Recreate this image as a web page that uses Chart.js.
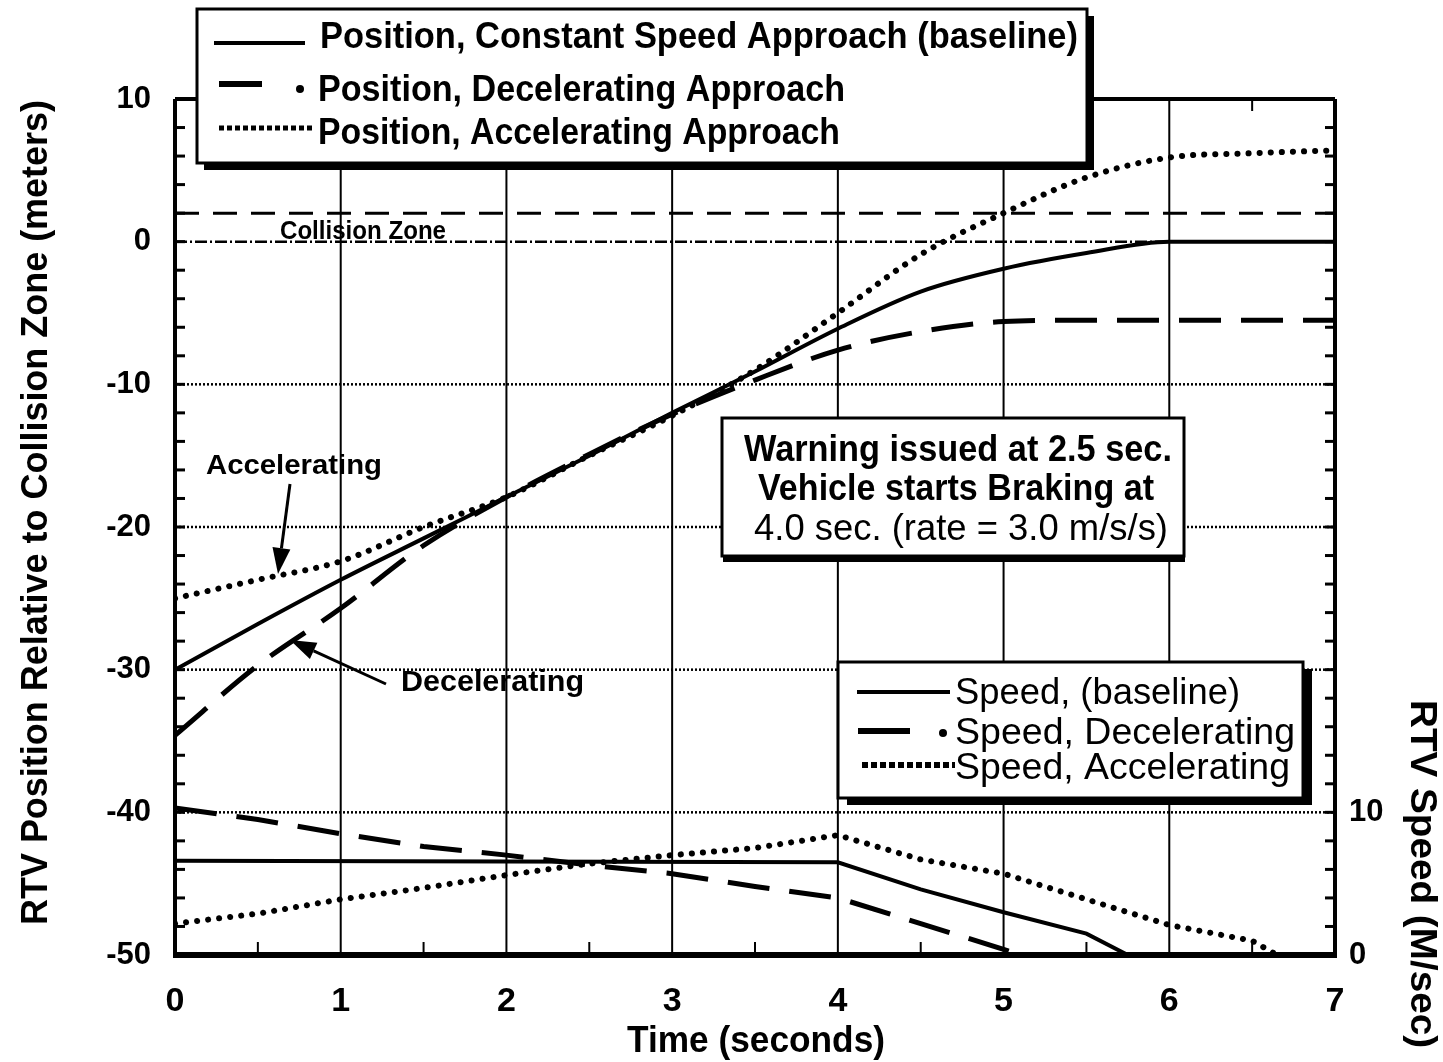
<!DOCTYPE html>
<html>
<head>
<meta charset="utf-8">
<script src="https://cdn.jsdelivr.net/npm/chart.js@4.4.1/dist/chart.umd.min.js"></script>
<style>
  html, body { margin: 0; padding: 0; background: #fff; }
  #wrap { position: relative; width: 1443px; height: 1062px; }
</style>
</head>
<body>
<div id="wrap"><canvas id="rtvChart"></canvas></div>
<script>
// values
const timeGrid = [0, 0.5, 1, 1.5, 2, 2.5, 3, 3.5, 4, 4.5, 5, 5.5, 6, 6.5, 7];
const posBaseline = [-30, -26.8, -23.7, -20.8, -17.9, -15.0, -12.0, -9.1, -6.1, -3.5, -1.9, -0.8, 0, 0, 0];
const posDecel    = [-34.6, -29.7, -25.7, -21.3, -17.9, -14.9, -12.1, -9.7, -7.6, -6.3, -5.6, -5.5, -5.5, -5.5, -5.5];
const posAccel    = [-25.0, -23.7, -22.4, -20.0, -17.9, -15.0, -12.2, -9.0, -5.0, -0.9, 2.0, 4.5, 5.9, 6.2, 6.4];

const speedBaseTime  = [0, 4, 4.5, 5, 5.5, 5.75];
const speedBaseline  = [6.6, 6.5, 4.6, 3.0, 1.5, 0];
const speedDecelTime = [0, 0.5, 1, 1.5, 2, 2.5, 3, 3.5, 4, 4.5, 5, 5.1];
const speedDecel     = [10.3, 9.5, 8.5, 7.6, 7.0, 6.3, 5.7, 4.8, 4.0, 2.2, 0.4, 0];
const speedAccelTime = [0, 0.5, 1, 1.5, 2, 2.5, 3, 3.5, 4, 4.5, 5, 5.5, 6, 6.5, 6.65];
const speedAccel     = [2.2, 2.9, 3.9, 4.7, 5.6, 6.4, 7.0, 7.5, 8.4, 6.7, 5.7, 3.9, 2.1, 1.0, 0];

const collisionTime = [0, 7];
const collisionZone = [2, 2];

const speedTickLabels = [0, 10];

const positionLegend = [
    'Position, Constant Speed Approach (baseline)',
    'Position, Decelerating Approach',
    'Position, Accelerating Approach'
];
const speedLegend = ['Speed, (baseline)', 'Speed, Decelerating', 'Speed, Accelerating'];
const noteLines = ['Warning issued at 2.5 sec.', 'Vehicle starts Braking at', '4.0 sec. (rate = 3.0 m/s/s)'];

const FAM = '"Liberation Sans Narrow", "Liberation Sans", Arial, sans-serif';

function pts(xs, ys) {
    return xs.map((t, i) => ({ x: t, y: ys[i] }));
}

// draws text squeezed/stretched to a target width (scan font is condensed)
function fitText(ctx, text, x, y, width, font, rot) {
    ctx.save();
    ctx.font = font;
    const w = ctx.measureText(text).width;
    ctx.translate(x, y);
    if (rot) ctx.rotate(rot);
    ctx.scale(width / w, 1);
    ctx.textAlign = 'left';
    ctx.textBaseline = 'alphabetic';
    ctx.fillStyle = '#000';
    ctx.fillText(text, 0, 0);
    ctx.restore();
}

function shadowBox(ctx, l, t, r, b, sx, sy) {
    ctx.fillStyle = '#000';
    ctx.fillRect(l + sx, t + sy, r - l, b - t);
    ctx.fillStyle = '#fff';
    ctx.fillRect(l, t, r - l, b - t);
    ctx.lineWidth = 3;
    ctx.strokeStyle = '#000';
    ctx.setLineDash([]);
    ctx.strokeRect(l, t, r - l, b - t);
    ctx.fillStyle = '#000';
}

function seg(ctx, x1, y1, x2, y2) {
    ctx.beginPath();
    ctx.moveTo(x1, y1);
    ctx.lineTo(x2, y2);
    ctx.stroke();
}

function dot(ctx, cx, cy, r) {
    ctx.fillStyle = '#000';
    ctx.beginPath();
    ctx.arc(cx, cy, r, 0, Math.PI * 2);
    ctx.fill();
}

function arrow(ctx, x1, y1, x2, y2) {
    ctx.save();
    ctx.lineWidth = 3;
    ctx.strokeStyle = '#000';
    ctx.fillStyle = '#000';
    const ang = Math.atan2(y2 - y1, x2 - x1);
    const hl = 26, hw = 9;
    const bx = x2 - hl * Math.cos(ang), by = y2 - hl * Math.sin(ang);
    seg(ctx, x1, y1, bx, by);
    ctx.beginPath();
    ctx.moveTo(x2, y2);
    ctx.lineTo(bx + hw * Math.sin(ang), by - hw * Math.cos(ang));
    ctx.lineTo(bx - hw * Math.sin(ang), by + hw * Math.cos(ang));
    ctx.closePath();
    ctx.fill();
    ctx.restore();
}

const figureDecor = {
    id: 'figureDecor',
    beforeDatasetsDraw(chart) {
        const { ctx, chartArea: a, scales } = chart;
        const x = scales.x, y = scales.y;
        ctx.save();
        ctx.strokeStyle = '#000';
        // vertical grid, one per second
        ctx.lineWidth = 2;
        x.ticks.forEach(tk => {
            if (tk.value <= x.min || tk.value >= x.max) return;
            const px = x.getPixelForValue(tk.value);
            seg(ctx, px, a.top, px, a.bottom);
        });
        // horizontal dotted grid every 10 m
        ctx.lineWidth = 2.5;
        y.ticks.forEach(tk => {
            if (tk.value <= y.min || tk.value >= y.max) return;
            const py = y.getPixelForValue(tk.value);
            ctx.setLineDash(tk.value === 0 ? [12, 3, 2, 3] : [2, 2]);
            seg(ctx, a.left, py, a.right, py);
        });
        ctx.restore();
    },
    afterDatasetsDraw(chart) {
        const { ctx, chartArea: a, scales } = chart;
        const x = scales.x, y = scales.y;
        ctx.save();
        ctx.strokeStyle = '#000';
        ctx.setLineDash([]);
        // minor inward ticks, every 2 m on both sides
        ctx.lineWidth = 3;
        for (let v = y.min + 2; v < y.max; v += 2) {
            const py = y.getPixelForValue(v);
            seg(ctx, a.left, py, a.left + 10, py);
            seg(ctx, a.right - 10, py, a.right, py);
        }
        // half-second ticks on bottom and top
        ctx.lineWidth = 2;
        for (let t = 0.5; t < x.max; t += 1) {
            const px = x.getPixelForValue(t);
            seg(ctx, px, a.bottom, px, a.bottom - 13);
            seg(ctx, px, a.top, px, a.top + 12);
        }
        // frame
        ctx.lineWidth = 4;
        seg(ctx, a.left, a.top, a.left, a.bottom);
        seg(ctx, a.right, a.top, a.right, a.bottom);
        seg(ctx, a.left, a.top, a.right, a.top);
        ctx.lineWidth = 6;
        seg(ctx, a.left - 2, a.bottom, a.right + 2, a.bottom);
        ctx.restore();
    },
    afterDraw(chart) {
        const { ctx } = chart;
        ctx.save();

        // collision zone label
        fitText(ctx, 'Collision Zone', 280, 239, 166, 'bold 25px ' + FAM);

        // position legend
        shadowBox(ctx, 197, 9, 1087, 163, 7, 7);
        ctx.strokeStyle = '#000';
        ctx.lineWidth = 4;
        seg(ctx, 214, 43, 305, 43);
        ctx.lineWidth = 6;
        seg(ctx, 219, 84, 262, 84);
        dot(ctx, 300, 89, 4);
        ctx.lineWidth = 5;
        ctx.setLineDash([5, 3]);
        seg(ctx, 219, 128, 312, 128);
        ctx.setLineDash([]);
        fitText(ctx, positionLegend[0], 320, 48, 758, 'bold 36px ' + FAM);
        fitText(ctx, positionLegend[1], 318, 101, 527, 'bold 36px ' + FAM);
        fitText(ctx, positionLegend[2], 318, 144, 522, 'bold 36px ' + FAM);

        // note box
        shadowBox(ctx, 722, 418, 1184, 556, 1, 6);
        fitText(ctx, noteLines[0], 744, 461, 428, 'bold 37px ' + FAM);
        fitText(ctx, noteLines[1], 758, 500, 396, 'bold 37px ' + FAM);
        fitText(ctx, noteLines[2], 754, 540, 414, '37px ' + FAM);

        // speed legend
        shadowBox(ctx, 838, 662, 1303, 798, 9, 7);
        ctx.strokeStyle = '#000';
        ctx.lineWidth = 4;
        seg(ctx, 857, 692, 950, 692);
        ctx.lineWidth = 6;
        seg(ctx, 858, 731, 910, 731);
        dot(ctx, 943, 733, 4);
        ctx.lineWidth = 6;
        ctx.setLineDash([6, 3]);
        seg(ctx, 862, 765, 955, 765);
        ctx.setLineDash([]);
        fitText(ctx, speedLegend[0], 955, 704, 285, '37px ' + FAM);
        fitText(ctx, speedLegend[1], 955, 744, 340, '37px ' + FAM);
        fitText(ctx, speedLegend[2], 955, 779, 335, '37px ' + FAM);

        // curve labels with arrows
        fitText(ctx, 'Accelerating', 206, 474, 176, 'bold 27px ' + FAM);
        arrow(ctx, 290, 484, 278, 574);
        fitText(ctx, 'Decelerating', 401, 691, 183, 'bold 30px ' + FAM);
        arrow(ctx, 386, 684, 290, 640);

        // axis titles
        fitText(ctx, 'Time (seconds)', 627, 1052, 258, 'bold 37px ' + FAM);
        fitText(ctx, 'RTV Position Relative to Collision Zone (meters)', 47, 925, 825, 'bold 36px ' + FAM, -Math.PI / 2);
        fitText(ctx, 'RTV Speed (M/sec)', 1411, 700, 348, 'bold 36px ' + FAM, Math.PI / 2);

        ctx.restore();
    }
};

const lineBase = { borderColor: '#000', pointRadius: 0, fill: false };

new Chart(document.getElementById('rtvChart').getContext('2d'), {
    type: 'line',
    data: {
        datasets: [
            { ...lineBase, data: pts(collisionTime, collisionZone), borderWidth: 3, borderDash: [24, 14] },
            { ...lineBase, label: positionLegend[0], data: pts(timeGrid, posBaseline), borderWidth: 4, cubicInterpolationMode: 'monotone' },
            { ...lineBase, label: positionLegend[1], data: pts(timeGrid, posDecel), borderWidth: 5, borderDash: [42, 20], cubicInterpolationMode: 'monotone' },
            { ...lineBase, label: positionLegend[2], data: pts(timeGrid, posAccel), borderWidth: 6, borderDash: [0.1, 11], borderCapStyle: 'round', cubicInterpolationMode: 'monotone' },
            { ...lineBase, label: speedLegend[0], yAxisID: 'y2', data: pts(speedBaseTime, speedBaseline), borderWidth: 4 },
            { ...lineBase, label: speedLegend[1], yAxisID: 'y2', data: pts(speedDecelTime, speedDecel), borderWidth: 5, borderDash: [42, 20] },
            { ...lineBase, label: speedLegend[2], yAxisID: 'y2', data: pts(speedAccelTime, speedAccel), borderWidth: 6, borderDash: [0.1, 11], borderCapStyle: 'round' }
        ]
    },
    options: {
        responsive: true,
        maintainAspectRatio: false,
        animation: false,
        devicePixelRatio: 1,
        layout: { padding: { top: 99, left: 0, right: 0, bottom: 0 } },
        plugins: { legend: { display: false }, tooltip: { enabled: false } },
        scales: {
            x: {
                type: 'linear', position: 'bottom', min: 0, max: 7,
                grid: { display: false, drawTicks: false },
                border: { display: false },
                ticks: { stepSize: 1, padding: 26, color: '#000', font: { family: FAM, size: 34, weight: 'bold' } },
                afterFit: s => { s.height = 107; }
            },
            y: {
                type: 'linear', position: 'left', min: -50, max: 10,
                grid: { display: false, drawTicks: false },
                border: { display: false },
                ticks: { stepSize: 10, padding: 24, color: '#000', font: { family: FAM, size: 31, weight: 'bold' } },
                afterFit: s => { s.width = 175; }
            },
            y2: {
                type: 'linear', position: 'right', min: 0, max: 60,
                grid: { display: false, drawTicks: false },
                border: { display: false },
                ticks: {
                    stepSize: 10, padding: 14, color: '#000',
                    font: { family: FAM, size: 31, weight: 'bold' },
                    callback: v => (speedTickLabels.includes(v) ? v : '')
                },
                afterFit: s => { s.width = 108; }
            }
        }
    },
    plugins: [figureDecor]
});
</script>
</body>
</html>
